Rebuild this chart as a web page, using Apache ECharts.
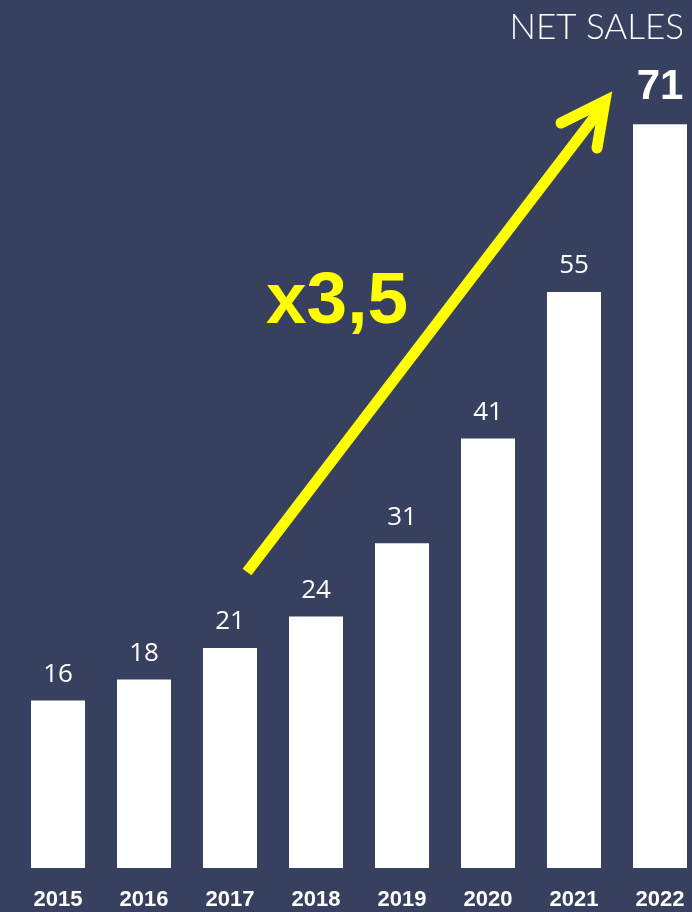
<!DOCTYPE html>
<html>
<head>
<meta charset="utf-8">
<script src="https://cdn.jsdelivr.net/npm/echarts@6/dist/echarts.min.js"></script>
<style>
html,body{margin:0;padding:0;background:#37415F;overflow:hidden;}
#c{width:703px;height:912px;}
</style>
</head>
<body>
<div id="c"></div>
<script>
const years = ['2015','2016','2017','2018','2019','2020','2021','2022'];
const netSales = [16, 18, 21, 24, 31, 41, 55, 71];
const titleText = 'NET SALES';
const growthText = 'x3,5';

const chart = echarts.init(document.getElementById('c'), null, {renderer: 'canvas'});
const data = netSales.map((v, i) => {
  if (i === netSales.length - 1) {
    return {value: v, label: {fontSize: 42, fontWeight: 'bold', fontFamily: 'Liberation Sans', distance: 16}};
  }
  return v;
});
chart.setOption({
  backgroundColor: '#37415F',
  animation: false,
  title: {
    text: titleText, right: 14, top: 5,
    textStyle: {color: '#ffffff', fontSize: 35, fontWeight: 300, fontFamily: 'Lato'}
  },
  grid: {left: 15, right: 0, top: 30, bottom: 44},
  xAxis: {
    type: 'category', data: years,
    axisLine: {show: false}, axisTick: {show: false},
    axisLabel: {color: '#ffffff', fontSize: 22, fontWeight: 'bold', fontFamily: 'Liberation Sans Narrow, Liberation Sans', margin: 21}
  },
  yAxis: {type: 'value', min: 0, max: 80, show: false, splitLine: {show: false}},
  series: [{
    type: 'bar', data: data, barWidth: 54,
    itemStyle: {color: '#ffffff'},
    label: {show: true, position: 'top', distance: 13, color: '#ffffff', fontSize: 26, fontFamily: 'Open Sans'}
  }],
  graphic: [
    {type: 'text', left: 266, top: 266, style: {text: growthText, fill: '#FFFF00', fontSize: 73, fontWeight: 'bold', fontFamily: 'Liberation Sans'}},
    {type: 'line', shape: {x1: 247, y1: 572, x2: 603, y2: 106}, style: {stroke: '#FFFF00', lineWidth: 11, lineCap: 'butt'}},
    {type: 'polyline', shape: {points: [[561, 123], [605, 101], [597, 148]]}, style: {stroke: '#FFFF00', lineWidth: 11, lineCap: 'round', lineJoin: 'miter', fill: null}}
  ]
});
</script>
</body>
</html>
